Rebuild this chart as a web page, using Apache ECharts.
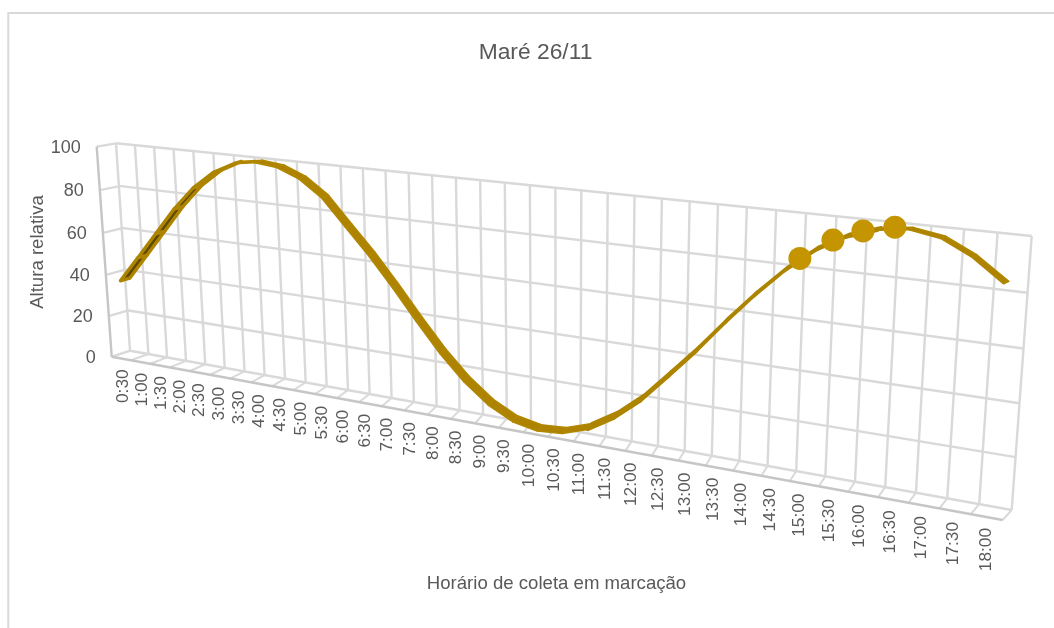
<!DOCTYPE html>
<html><head><meta charset="utf-8"><style>html,body{margin:0;background:#fff}#c{width:1054px;height:628px}</style>
<script src="https://cdn.jsdelivr.net/npm/echarts@6/dist/echarts.min.js"></script></head><body><div id="c"></div>
<script>
var chartTitle = 'Maré 26/11';
var xTitle = 'Horário de coleta em marcação';
var yTitle = 'Altura relativa';
var categories = ['0:30','1:00','1:30','2:00','2:30','3:00','3:30','4:00','4:30','5:00','5:30','6:00','6:30','7:00','7:30','8:00','8:30','9:00','9:30','10:00','10:30','11:00','11:30','12:00','12:30','13:00','13:30','14:00','14:30','15:00','15:30','16:00','16:30','17:00','17:30','18:00'];
var tide = [37.0,49.4,62.0,74.6,85.3,93.2,98.1,99.5,98.4,94.4,87.2,75.9,64.8,52.4,39.3,26.9,16.4,8.2,2.9,0.8,1.7,5.3,11.9,20.9,32.4,44.1,56.8,68.7,79.4,88.2,94.3,97.9,99.2,97.3,91.8,83.8];
// sampling markers as placed on the curve: position along the category axis, height
var markerPos = [28.45,29.52,30.48,31.49];
var markerVal = [84.0,92.1,96.6,99.1];
var yTicks = [0,20,40,60,80,100];

// Camera: corners of the 3-D box on screen (Excel-style perspective plot)
var BBL=[130,350.7],BBR=[1011.7,510],BTR=[1031.7,236],BTL=[116,143.3];
var FBL=[111.7,356.7],FBR=[1002.7,520],FTL=[96.7,146.7],FTR=[1020.7,240];
var frontPersp=1.3, labelPersp=1.35;

function homography(q){var x0=q[0][0],y0=q[0][1],x1=q[1][0],y1=q[1][1],x2=q[2][0],y2=q[2][1],x3=q[3][0],y3=q[3][1];
 var dx1=x1-x2,dx2=x3-x2,sx=x0-x1+x2-x3,dy1=y1-y2,dy2=y3-y2,sy=y0-y1+y2-y3,d=dx1*dy2-dx2*dy1,g=(sx*dy2-dx2*sy)/d,h=(dx1*sy-sx*dy1)/d;
 var m=[x1-x0+g*x1,x3-x0+h*x3,x0,y1-y0+g*y1,y3-y0+h*y3,y0,g,h,1];
 return function(a,b){var w=m[6]*a+m[7]*b+m[8];return [(m[0]*a+m[1]*b+m[2])/w,(m[3]*a+m[4]*b+m[5])/w];};}
var back=homography([BBL,BBR,BTR,BTL]);
var side=homography([BBL,FBL,FTL,BTL]);
function persp(t,k){return t/(t+k*(1-t));}
function lerp(a,b,t){return [a[0]+(b[0]-a[0])*t,a[1]+(b[1]-a[1])*t];}
function depth(u,v){var fb=lerp(FBL,FBR,persp(u,frontPersp)),ft=lerp(FTL,FTR,persp(u,frontPersp)),bb=back(u,0),bt=back(u,1);
 return [(1-v)*(fb[0]-bb[0])+v*(ft[0]-bt[0]),(1-v)*(fb[1]-bb[1])+v*(ft[1]-bt[1])];}
function space(u,v,w){var p=back(u,v),d=depth(u,v);return [p[0]+w*d[0],p[1]+w*d[1]];}
function norm(params,pt){var g=params.coordSys;return [(pt[0]-g.x)/g.width,1-(pt[1]-g.y)/g.height];}

var GRID='#d9d9d9',EDGE='#c6c6c6',TXT='#595959',FONT='"Liberation Sans",Arial,sans-serif';
function seg(a,b,color,width){return {type:'line',shape:{x1:a[0],y1:a[1],x2:b[0],y2:b[1]},style:{stroke:color,lineWidth:width||2.4,fill:null},silent:true};}

function renderFrame(params,api){
 var ch=[],n=categories.length,k;
 for(k=0;k<=n;k++){var u=k/n;ch.push(seg(back(u,0),back(u,1),GRID,2.4));ch.push(seg(back(u,0),space(u,0,1),GRID,2));}
 yTicks.forEach(function(t){var v=norm(params,api.coord([0,t]))[1];ch.push(seg(back(0,v),back(1,v),GRID,2.4));ch.push(seg(side(0,v),side(1,v),GRID,2.2));});
 ch.push(seg(side(1,0),side(1,1),EDGE,2.4));
 ch.push(seg(FBL,FBR,EDGE,2.4));
 return {type:'group',children:ch};
}
function renderLabels(params,api){
 var ch=[],n=categories.length;
 yTicks.forEach(function(t){var v=norm(params,api.coord([0,t]))[1],p=side(1,v);
  ch.push({type:'text',x:p[0]-16,y:p[1]+1,style:{text:String(t),align:'right',verticalAlign:'middle',fontSize:18,fontFamily:FONT,fill:TXT}});});
 categories.forEach(function(c,i){var u=(i+.5)/n,p=lerp(FBL,FBR,persp(u,labelPersp));
  ch.push({type:'text',x:p[0]+2.8-2.5*u,y:p[1]+11,rotation:Math.PI/2,style:{text:c,align:'right',verticalAlign:'middle',fontSize:17.3,fontFamily:FONT,fill:TXT}});});
 return {type:'group',children:ch};
}
function renderRibbon(params,api){
 var i=params.dataIndex;if(i>=tide.length-1)return null;
 var a=norm(params,api.coord([i,tide[i]])),b=norm(params,api.coord([i+1,tide[i+1]]));
 function half(u){return .25+.08*Math.sin(Math.PI*u);}
 var p1=space(a[0],a[1],.5-half(a[0])),p2=space(b[0],b[1],.5-half(b[0])),p3=space(b[0],b[1],.5+half(b[0])),p4=space(a[0],a[1],.5+half(a[0]));
 var dx=p2[0]-p1[0],dy=p2[1]-p1[1],ex=p4[0]-p1[0],ey=p4[1]-p1[1],top=dx*ey-dy*ex>0,rising=dy<-6;
 return {type:'polygon',shape:{points:[p1,p2,p3,p4]},style:{fill:top?'#AD8300':'#5f4800',stroke:rising?'#AD8400':'#B18700',lineWidth:rising?3.4:1.6,lineJoin:'round'}};
}
function renderMarker(params,api){
 var s=markerPos[params.dataIndex],val=markerVal[params.dataIndex],f=Math.floor(s);
 var a=api.coord([f,val]),b=api.coord([f+1,val]);
 var n=norm(params,[a[0]+(b[0]-a[0])*(s-f),a[1]]),p=space(n[0],n[1],.5);
 return {type:'circle',shape:{cx:p[0],cy:p[1],r:11.5},style:{fill:'#C49500'}};
}
var chart=echarts.init(document.getElementById('c'));
var one=[[0,0]];
chart.setOption({
 animation:false,backgroundColor:'#fff',tooltip:{show:false},
 title:{text:chartTitle,left:530.5,top:36,textAlign:'center',textStyle:{fontSize:22.8,fontWeight:'normal',color:TXT,fontFamily:FONT}},
 grid:{left:116,width:881,top:147,height:210},
 xAxis:{type:'category',data:categories,boundaryGap:true,name:xTitle,nameLocation:'middle',nameGap:217,nameTextStyle:{fontSize:18.6,color:TXT,fontFamily:FONT},axisLine:{show:false},axisTick:{show:false},axisLabel:{show:false},splitLine:{show:false}},
 yAxis:{type:'value',min:0,max:100,interval:20,name:yTitle,nameLocation:'middle',nameGap:69,nameTextStyle:{fontSize:18.6,color:TXT,fontFamily:FONT},axisLine:{show:false},axisTick:{show:false},axisLabel:{show:false},splitLine:{show:false}},
 graphic:[{type:'polyline',shape:{points:[[8.3,628],[8.3,13],[1054,13]]},style:{stroke:'#d9d9d9',lineWidth:2,fill:null},silent:true}],
 series:[
  {type:'custom',name:'frame',renderItem:renderFrame,data:one,z:1,clip:false,silent:true},
  {type:'custom',name:'tide',renderItem:renderRibbon,data:tide.map(function(v,i){return [i,v];}),z:2,clip:false,silent:true},
  {type:'custom',name:'markers',renderItem:renderMarker,data:markerVal.map(function(v,i){return [Math.round(markerPos[i]),v];}),z:3,clip:false,silent:true},
  {type:'custom',name:'labels',renderItem:renderLabels,data:one,z:4,clip:false,silent:true}
 ]
});
</script></body></html>
